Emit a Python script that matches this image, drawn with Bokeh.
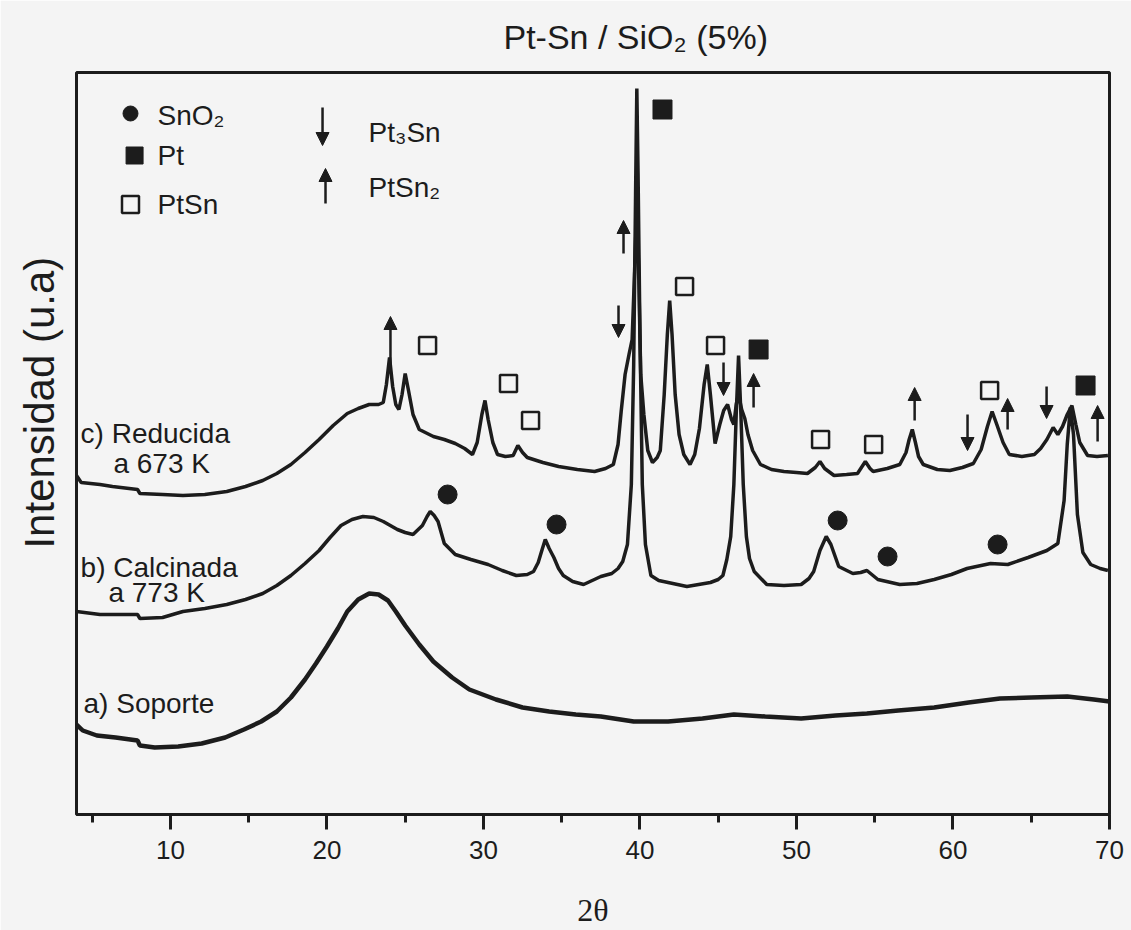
from bokeh.plotting import figure
from bokeh.models import (ColumnDataSource, Range1d, SingleIntervalTicker, FixedTicker,
                          Arrow, NormalHead, Title)
from bokeh.core.properties import value
from bokeh.embed import file_html
from bokeh.resources import INLINE

# --- XRD patterns (2-theta in degrees, intensity in arbitrary units, stacked) ---
soporte_tt = [4.0, 4.4, 5.3, 6.5, 7.9, 8.05, 9.0, 10.5, 12.0, 13.5, 14.7, 15.8, 16.8,
              17.7, 18.6, 19.3, 20.0, 20.7, 21.3, 22.0, 22.7, 23.3, 23.9, 24.4, 25.0,
              25.9, 26.8, 28.0, 29.1, 30.8, 32.5, 34.2, 35.9, 37.5, 39.6, 41.8, 44.0,
              46.0, 48.0, 50.3, 52.5, 54.5, 56.5, 58.8, 61.0, 63.0, 65.0, 67.3, 69.0, 70.0]
soporte_i = [90, 84, 79, 77, 74, 69, 67, 68, 71, 77, 85, 93, 103,
             117, 135, 151, 168, 186, 203, 215, 221, 220, 214, 203, 189,
             170, 153, 137, 125, 115, 107, 103, 100, 98, 93, 93, 96,
             100, 98, 96, 99, 101, 104, 107, 112, 116, 117, 118, 115, 113]

calcinada_tt = [4.0, 5.5, 7.9, 8.05, 9.5, 10.8, 12.2, 13.6, 14.8, 15.9, 16.8, 17.7, 18.6,
                19.5, 20.2, 20.9, 21.6, 22.3, 23.0, 23.6, 24.5, 25.0, 25.5, 26.1, 26.4,
                26.6, 26.85, 27.1, 27.5, 28.2, 29.2, 30.3, 31.2, 32.1, 32.8, 33.2, 33.5,
                33.75, 33.95, 34.2, 34.5, 34.8, 35.1, 35.7, 36.4, 37.5, 38.2, 38.6, 38.9,
                39.2, 39.45, 39.6, 39.72, 39.8, 39.88, 40.0, 40.15, 40.35, 40.7, 41.2,
                41.8, 43.0, 44.5, 45.0, 45.3, 45.55, 45.8, 46.0, 46.15, 46.3, 46.45, 46.6,
                46.8, 47.0, 47.3, 48.1, 49.2, 50.3, 50.8, 51.1, 51.5, 51.9, 52.2, 52.7,
                53.6, 54.1, 54.5, 55.2, 56.6, 57.7, 58.8, 59.9, 60.9, 62.4, 63.5, 64.8,
                66.0, 66.7, 67.1, 67.3, 67.5, 67.7, 67.95, 68.3, 68.8, 69.4, 69.9]
calcinada_i = [203, 200, 200, 196, 197, 203, 206, 210, 215, 221, 229, 239, 251,
               264, 277, 289, 295, 298, 297, 293, 285, 282, 280, 289, 298,
               303, 299, 293, 271, 260, 255, 250, 244, 239, 240, 243, 252,
               265, 275, 266, 257, 246, 239, 233, 230, 238, 241, 246, 253,
               270, 330, 450, 620, 726, 640, 480, 330, 270, 239, 234,
               232, 228, 232, 235, 239, 255, 278, 330, 400, 459, 400, 330,
               278, 256, 243, 230, 229, 230, 236, 243, 264, 278, 270, 248,
               241, 242, 244, 235, 230, 231, 235, 240, 246, 251, 250, 257,
               264, 271, 314, 370, 407, 380, 300, 262, 250, 246, 244]

reducida_tt = [4.0, 4.3, 5.5, 6.3, 7.9, 8.05, 9.5, 10.8, 12.2, 13.6, 14.8, 15.9, 16.8,
               17.7, 18.6, 19.5, 20.4, 21.3, 22.0, 22.7, 23.3, 23.6, 23.8, 24.0, 24.2,
               24.4, 24.6, 24.8, 25.0, 25.2, 25.5, 25.9, 26.8, 27.5, 28.2, 28.8, 29.3,
               29.6, 29.9, 30.1, 30.3, 30.6, 30.9, 31.4, 31.9, 32.2, 32.5, 32.8, 33.8,
               34.8, 36.0, 37.1, 37.8, 38.3, 38.6, 38.8, 39.05, 39.3, 39.5, 39.65, 39.8,
               39.92, 40.05, 40.25, 40.5, 40.8, 41.1, 41.3, 41.55, 41.75, 41.9, 42.05,
               42.25, 42.5, 42.8, 43.2, 43.5, 43.8, 44.1, 44.3, 44.5, 44.8, 45.1, 45.35,
               45.6, 45.85, 46.0, 46.15, 46.3, 46.5, 46.7, 46.9, 47.2, 47.7, 48.4, 49.2,
               50.0, 50.7, 51.2, 51.5, 51.8, 52.4, 53.2, 53.9, 54.4, 54.7, 54.9, 55.8,
               56.6, 57.0, 57.2, 57.4, 57.6, 57.8, 58.1, 59.0, 59.8, 60.6, 61.3, 61.8,
               62.2, 62.5, 62.8, 63.2, 63.6, 64.4, 65.2, 65.6, 66.0, 66.4, 66.7, 67.0,
               67.3, 67.6, 67.85, 68.1, 68.6, 69.2, 69.9]
reducida_i = [339, 332, 330, 328, 325, 321, 320, 319, 320, 323, 328, 334, 341,
              350, 362, 375, 389, 401, 406, 410, 410, 412, 430, 457, 428,
              410, 405, 420, 441, 425, 400, 385, 378, 375, 371, 366, 360,
              372, 400, 414, 395, 372, 360, 358, 359, 369, 362, 357, 352,
              348, 345, 343, 346, 350, 370, 403, 440, 460, 475, 540, 611,
              540, 440, 400, 364, 352, 357, 364, 420, 480, 514, 480,
              420, 380, 360, 350, 360, 386, 430, 450, 420, 371, 390, 404,
              410, 395, 390, 410, 420, 405, 396, 380, 364, 350, 345, 343,
              342, 341, 347, 353, 346, 339, 340, 341, 353, 346, 343, 346,
              350, 362, 375, 385, 372, 358, 350, 345, 344, 347, 351, 365,
              388, 403, 390, 372, 360, 358, 360, 366, 375, 387, 380, 388,
              400, 409, 390, 372, 359, 358, 359]

# --- phase markers ---
sno2_tt = [27.71, 34.67, 52.63, 55.82, 62.85]
sno2_y = [320, 290, 294, 258, 270]
pt_tt = [41.44, 47.58, 68.47]
pt_y = [705, 465, 429]
ptsn_tt = [26.43, 31.60, 33.01, 42.85, 44.83, 51.54, 54.93, 62.34]
ptsn_y = [469, 431, 394, 528, 469, 375, 370, 424]
# arrows: x, tail, tip
pt3sn_tt = [38.63, 45.34, 60.93, 65.98]
pt3sn_tail = [509, 452, 400, 428]
pt3sn_tip = [477, 419, 364, 396]
ptsn2_tt = [24.06, 38.95, 47.26, 57.55, 63.49, 69.24]
ptsn2_tail = [446, 561, 407, 394, 385, 373]
ptsn2_tip = [498, 594, 441, 427, 416, 409]

x_ticks_interval = 10

INK = "#1c1c1c"
PAPER = "#f4f4f4"
SANS = "Liberation Sans"
NBSP = "\u00a0"

p = figure(frame_width=1033, frame_height=742, output_backend="svg", toolbar_location=None,
           x_range=Range1d(4, 70), y_range=Range1d(0, 742),
           min_border_left=76, min_border_right=22, min_border_top=72, min_border_bottom=116,
           title="Pt-Sn / SiO\u2082 (5%)")
p.background_fill_color = PAPER
p.border_fill_color = PAPER
p.outline_line_color = INK
p.outline_line_width = 3
p.grid.visible = False

p.title.text_font = SANS
p.title.text_font_size = "34px"
p.title.text_font_style = "normal"
p.title.text_color = INK
p.title.align = "left"
p.title.offset = 427
p.title.standoff = 10
# thin blank band between the heading and the frame
p.above.insert(0, Title(text=NBSP, text_font_size="9px", standoff=0))

ax = p.xaxis[0]
ax.ticker = SingleIntervalTicker(interval=x_ticks_interval, num_minor_ticks=2)
ax.axis_line_color = INK
ax.axis_line_width = 3
ax.major_tick_line_color = INK
ax.major_tick_line_width = 3
ax.major_tick_in = 0
ax.major_tick_out = 15
ax.minor_tick_line_color = INK
ax.minor_tick_line_width = 3
ax.minor_tick_in = 0
ax.minor_tick_out = 8
ax.major_label_text_font = SANS
ax.major_label_text_font_size = "26px"
ax.major_label_text_color = INK
ax.major_label_standoff = 11
ax.axis_label = "2θ"
ax.axis_label_text_font = "Liberation Serif"
ax.axis_label_text_font_style = "normal"
ax.axis_label_text_font_size = "32px"
ax.axis_label_text_color = INK
ax.axis_label_standoff = 30

ay = p.yaxis[0]
ay.ticker = FixedTicker(ticks=[])
ay.axis_line_color = None
ay.major_tick_line_color = None
ay.minor_tick_line_color = None
ay.major_tick_out = 0
ay.major_label_standoff = 0
# leading no-break spaces lift the centred caption toward the top of the frame
ay.axis_label = NBSP * 7 + "Intensidad (u.a)"
ay.axis_label_text_font = SANS
ay.axis_label_text_font_style = "normal"
ay.axis_label_text_font_size = "42px"
ay.axis_label_text_color = INK
ay.axis_label_standoff = 14

# traces
p.line(soporte_tt, soporte_i, line_color=INK, line_width=4.5)
p.line(calcinada_tt, calcinada_i, line_color=INK, line_width=3.5)
p.line(reducida_tt, reducida_i, line_color=INK, line_width=3.5)

# phase markers
p.scatter(sno2_tt, sno2_y, marker="circle", size=19, fill_color=INK, line_color=INK)
p.scatter(pt_tt, pt_y, marker="square", size=19, fill_color=INK, line_color=INK)
p.scatter(ptsn_tt, ptsn_y, marker="square", size=17, fill_color=None, line_color=INK,
          line_width=2.5)

down_src = ColumnDataSource(dict(x=pt3sn_tt, y0=pt3sn_tail, y1=pt3sn_tip))
up_src = ColumnDataSource(dict(x=ptsn2_tt, y0=ptsn2_tail, y1=ptsn2_tip))
for src in (down_src, up_src):
    p.add_layout(Arrow(end=NormalHead(size=13, fill_color=INK, line_color=INK, line_width=1),
                       x_start="x", y_start="y0", x_end="x", y_end="y1", source=src,
                       line_color=INK, line_width=2.5))

# legend block
p.scatter([7.45], [701], marker="circle", size=15, fill_color=INK, line_color=INK)
p.scatter([7.71], [659], marker="square", size=17, fill_color=INK, line_color=INK)
p.scatter([7.45], [610], marker="square", size=17, fill_color=None, line_color=INK,
          line_width=2.5)
leg_src = ColumnDataSource(dict(x=[19.72, 19.91], y0=[707, 611], y1=[669, 646]))
p.add_layout(Arrow(end=NormalHead(size=13, fill_color=INK, line_color=INK, line_width=1),
                   x_start="x", y_start="y0", x_end="x", y_end="y1", source=leg_src,
                   line_color=INK, line_width=2.5))
p.text(x=[9.18, 9.18, 9.18, 22.66, 22.66], y=[699, 659, 610, 682, 627],
       text=["SnO\u2082", "Pt", "PtSn", "Pt\u2083Sn", "PtSn\u2082"],
       text_font=value(SANS), text_font_size="28px", text_color=INK,
       text_baseline="middle", text_align="left")

# curve labels
p.text(x=[4.26, 6.36, 4.26, 6.04, 4.45], y=[381, 351, 247, 222, 111],
       text=["c) Reducida", "a 673 K", "b) Calcinada", "a 773 K", "a) Soporte"],
       text_font=value(SANS), text_font_size="28px", text_color=INK,
       text_baseline="middle", text_align="left")

open("out.html", "w").write(file_html(p, INLINE))
